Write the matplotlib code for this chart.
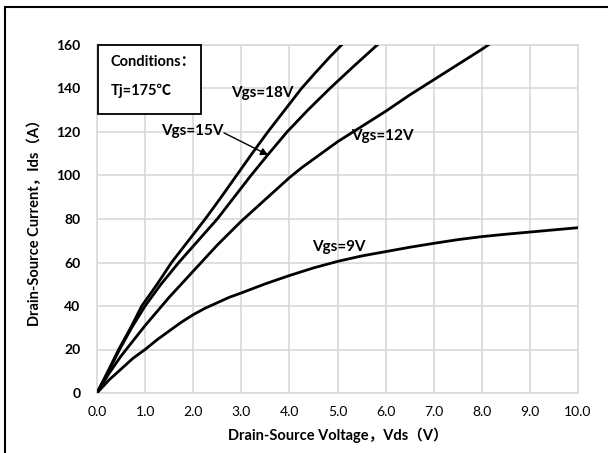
import matplotlib
matplotlib.use("Agg")
from matplotlib import pyplot as plt
from matplotlib.patches import Rectangle

plt.rcParams["font.family"] = ["Lato", "Noto Sans CJK SC", "DejaVu Sans"]

# output curves (Vds in V, Ids in A)
vds_18 = [0, 0.25, 0.45, 0.7, 0.93, 1.25, 1.55, 1.9, 2.25, 2.58, 2.9, 3.22, 3.55,
          3.9, 4.25, 4.55, 4.84, 5.15]
ids_18 = [0, 11, 20, 30, 40, 50, 60, 70, 80, 90, 100, 110, 120,
          130, 140, 147.5, 154.5, 161.5]

vds_15 = [0, 0.24, 0.47, 0.72, 1.0, 1.33, 1.7, 2.1, 2.5, 2.85, 3.2, 3.57, 3.95,
          4.38, 4.84, 5.35, 5.85]
ids_15 = [0, 10, 20, 30, 40, 50, 60, 70, 80, 90, 100, 110, 120,
          130, 140, 150.5, 160.5]

vds_12 = [0, 0.25, 0.5, 0.75, 1.0, 1.25, 1.5, 1.75, 2.0, 2.25, 2.5, 2.75, 3.0,
          3.25, 3.5, 3.75, 4.0, 4.25, 4.5, 4.75, 5.0, 5.5, 6.0, 6.5, 7.0, 7.5,
          8.0, 8.2]
ids_12 = [0, 9, 17, 24, 31, 37.5, 44, 50, 56, 62, 68, 73.5, 79,
          84, 89, 94, 99, 103.5, 107.5, 111.5, 115.5, 122.5, 129.5, 137, 144, 151,
          158, 161]

vds_9 = [0, 0.25, 0.5, 0.75, 1.0, 1.25, 1.5, 1.75, 2.0, 2.25, 2.5, 2.75, 3.0,
         3.5, 4.0, 4.5, 5.0, 5.5, 6.0, 6.5, 7.0, 7.5, 8.0, 8.5, 9.0, 9.5, 10.0]
ids_9 = [0, 6, 11, 16, 20, 24.5, 28.5, 32.5, 36, 39, 41.5, 44, 46,
         50.2, 54, 57.5, 60.5, 63, 65, 67, 68.8, 70.5, 71.9, 73, 74, 75, 76]

x_ticks = [0, 1, 2, 3, 4, 5, 6, 7, 8, 9, 10]
x_tick_labels = ["0.0", "1.0", "2.0", "3.0", "4.0", "5.0", "6.0", "7.0", "8.0", "9.0", "10.0"]
y_ticks = [0, 20, 40, 60, 80, 100, 120, 140, 160]

fig = plt.figure(figsize=(6.08, 4.53), dpi=100)
ax = fig.add_axes([97 / 608, 1 - 393 / 453, 481 / 608, 348 / 453])

grid_c = "#d9d9d9"
for xs, ys in [(vds_18, ids_18), (vds_15, ids_15), (vds_12, ids_12), (vds_9, ids_9)]:
    ax.plot(xs, ys, color="black", lw=2.0, solid_joinstyle="round",
            solid_capstyle="round", zorder=3)

ax.set_xlim(0, 10)
ax.set_ylim(0, 160)
ax.set_xticks(x_ticks)
ax.set_xticklabels(x_tick_labels)
ax.set_yticks(y_ticks)
ax.grid(True, color=grid_c, lw=1.2)
ax.set_axisbelow(True)
for s in ax.spines.values():
    s.set_color(grid_c)
    s.set_linewidth(1.2)
ax.tick_params(length=0, labelsize=10, colors="black")
ax.tick_params(axis="x", pad=9)
ax.tick_params(axis="y", pad=12)
for lab in ax.get_yticklabels():
    lab.set_fontweight("bold")

ax.set_xlabel("Drain-Source Voltage，Vds（V）", fontsize=10.5, fontweight="bold", labelpad=7)
ax.set_ylabel("Drain-Source Current，Ids（A）", fontsize=10.5, fontweight="bold", labelpad=10)

# conditions box
ax.add_patch(Rectangle((0.03, 128.3), 2.13, 31.7, fill=True, facecolor="white",
                       edgecolor="black", lw=1.3, zorder=4, clip_on=False))
ax.text(0.28, 152.2, "Conditions：", fontsize=10.5, fontweight="bold", va="center", zorder=5)
ax.text(0.28, 138.9, "Tj=175℃", fontsize=10.5, fontweight="bold", va="center", zorder=5)

# curve labels
ax.text(3.43, 137.9, "Vgs=18V", fontsize=11, fontweight="bold", ha="center", va="center")
ax.text(5.94, 118, "Vgs=12V", fontsize=11, fontweight="bold", ha="center", va="center")
ax.text(5.03, 67.1, "Vgs=9V", fontsize=11, fontweight="bold", ha="center", va="center")
ax.text(1.98, 120.4, "Vgs=15V", fontsize=11, fontweight="bold", ha="center", va="center")
ax.annotate("", xy=(3.56, 109.4), xytext=(2.64, 119.6),
            arrowprops=dict(arrowstyle="-|>", color="black", lw=1.0,
                            shrinkA=0, shrinkB=0, mutation_scale=11))

# outer frame (cut off at the right and bottom edges)
fig.patches.append(Rectangle((4.5 / 608, -0.1), 1.2, 1.1 - 7 / 453,
                             transform=fig.transFigure, fill=False,
                             edgecolor="black", lw=1.5))

fig.savefig("out.png", dpi=100)
